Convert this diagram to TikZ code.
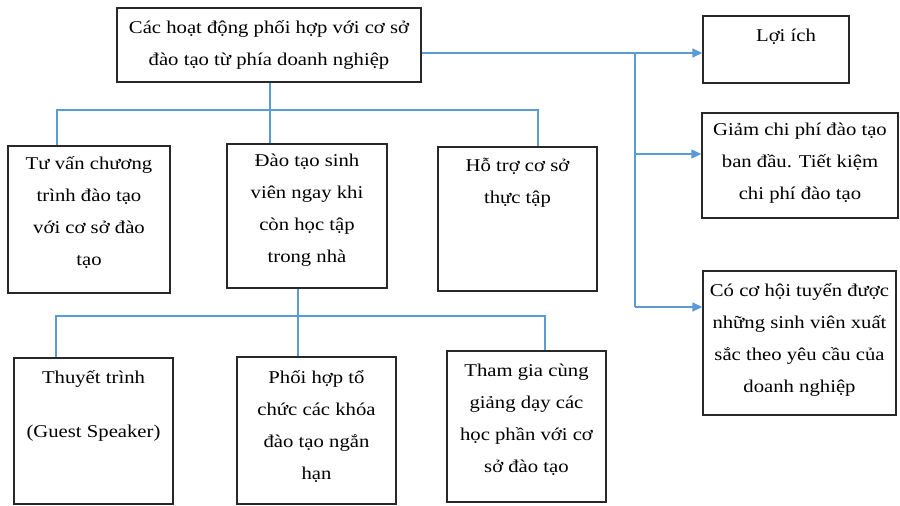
\documentclass[tikz,border=0pt]{standalone}
\usepackage{fontspec}
\setmainfont{Liberation Serif}[FakeStretch=1.15]
\usetikzlibrary{arrows.meta}
\definecolor{connblue}{RGB}{91,155,213}
\definecolor{boxline}{RGB}{40,40,40}
\tikzset{
  box/.style={draw=boxline, line width=1.3pt, rectangle, inner sep=0pt},
  txt/.style={align=center, inner sep=0pt, anchor=north, font=\fontsize{18}{32}\selectfont},
  conn/.style={draw=connblue, line width=1.3pt},
  arr/.style={conn, -{Triangle[length=10pt,width=9pt]}},
}
\begin{document}
\begin{tikzpicture}[x=1pt,y=-1pt]
\useasboundingbox[fill=white] (0,0) rectangle (900,506);
% boxes
\node[box, minimum width=304pt, minimum height=74pt] (top) at (269,45) {};
\node[box, minimum width=162pt, minimum height=147pt] (b1) at (89,219.5) {};
\node[box, minimum width=160pt, minimum height=144pt] (b2) at (307,216) {};
\node[box, minimum width=159pt, minimum height=144pt] (b3) at (517.5,219) {};
\node[box, minimum width=159pt, minimum height=146pt] (c1) at (93.5,431) {};
\node[box, minimum width=159pt, minimum height=147pt] (c2) at (316.5,430.5) {};
\node[box, minimum width=159pt, minimum height=151pt] (c3) at (526.5,426.5) {};
\node[box, minimum width=146pt, minimum height=67pt] (r1) at (776,49.5) {};
\node[box, minimum width=196pt, minimum height=105pt] (r2) at (800,165.5) {};
\node[box, minimum width=193pt, minimum height=144pt] (r3) at (799.5,343) {};
% texts
\node[txt] (ttop) at (269,20) {Các hoạt động phối hợp với cơ sở\\đào tạo từ phía doanh nghiệp};
\node[txt] (tb1) at (89,156) {Tư vấn chương\\trình đào tạo\\với cơ sở đào\\tạo};
\node[txt] (tb2) at (307,154) {Đào tạo sinh\\viên ngay khi\\còn học tập\\trong nhà};
\node[txt] (tb3) at (517.5,158) {Hỗ trợ cơ sở\\thực tập};
\node[txt] (tc1) at (93.5,370) {Thuyết trình\\[22pt](Guest Speaker)};
\node[txt] (tc2) at (316.5,370) {Phối hợp tổ\\chức các khóa\\đào tạo ngắn\\hạn};
\node[txt] (tc3) at (526.5,364) {Tham gia cùng\\giảng dạy các\\học phần với cơ\\sở đào tạo};
\node[txt] (tr1) at (786,29) {Lợi ích};
\node[txt] (tr2) at (800,123) {Giảm chi phí đào tạo\\ban đầu. Tiết kiệm\\chi phí đào tạo};
\node[txt] (tr3) at (799.5,283) {Có cơ hội tuyển được\\những sinh viên xuất\\sắc theo yêu cầu của\\doanh nghiệp};
% junction coordinates
\coordinate (tm) at (270,110);
\coordinate (hl) at (57,110);
\coordinate (hr) at (538,110);
\coordinate (bm) at (298,316);
\coordinate (bl) at (56,316);
\coordinate (br) at (545,316);
\coordinate (ra) at (635,53);
\coordinate (rb) at (635,154);
\coordinate (rc) at (635,307);
% connectors
\draw[conn] (top.south -| tm) -- (b2.north -| tm);
\draw[conn] (b1.north -| hl) -- (hl) -- (hr) -- (b3.north -| hr);
\draw[conn] (b2.south -| bm) -- (c2.north -| bm);
\draw[conn] (c1.north -| bl) -- (bl) -- (br) -- (c3.north -| br);
\draw[conn] (top.east |- ra) -- (ra) -- (rc);
\draw[arr] (ra) -- (r1.west |- ra);
\draw[arr] (rb) -- (r2.west |- rb);
\draw[arr] (rc) -- (r3.west |- rc);
\end{tikzpicture}
\end{document}
